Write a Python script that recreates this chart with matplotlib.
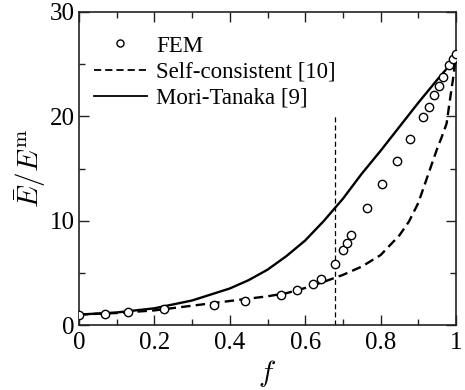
import matplotlib
matplotlib.use("Agg")
import matplotlib.pyplot as plt
from matplotlib.ticker import MultipleLocator

plt.rcParams['font.family'] = ['Liberation Serif', 'DejaVu Serif']
plt.rcParams['mathtext.fontset'] = 'cm'

# FEM results
fem_f = [0.0, 0.069, 0.131, 0.226, 0.359, 0.440, 0.535, 0.577, 0.620, 0.642,
         0.680, 0.700, 0.710, 0.722, 0.765, 0.805, 0.844, 0.879, 0.912, 0.928,
         0.942, 0.954, 0.966, 0.981, 0.992, 1.0]
fem_E = [1.0, 1.1, 1.2, 1.5, 1.9, 2.3, 2.9, 3.35, 3.9, 4.4,
         5.8, 7.2, 7.9, 8.6, 11.2, 13.5, 15.7, 17.8, 19.9, 20.9,
         22.0, 22.9, 23.8, 24.9, 25.5, 26.0]

# Self-consistent [10]
sc_f = [0.0, 0.1, 0.2, 0.3, 0.4, 0.5, 0.55, 0.6, 0.65, 0.7, 0.75, 0.8,
        0.85, 0.875, 0.9, 0.925, 0.95, 0.962, 0.975, 0.984, 0.993, 1.0]
sc_E = [1.0, 1.15, 1.4, 1.85, 2.3, 2.75, 3.05, 3.55, 4.15, 4.8, 5.6, 6.7,
        8.6, 9.9, 11.7, 14.3, 16.9, 18.0, 19.3, 21.6, 23.8, 26.0]

# Mori-Tanaka [9]
mt_f = [0.0, 0.1, 0.2, 0.3, 0.4, 0.45, 0.5, 0.55, 0.6, 0.65, 0.7, 0.75,
        0.8, 0.85, 0.9, 0.95, 1.0]
mt_E = [1.0, 1.2, 1.6, 2.35, 3.5, 4.3, 5.3, 6.6, 8.1, 10.0, 12.1, 14.5,
        16.7, 19.0, 21.3, 23.5, 25.6]

f_mark = 0.68
f_mark_top = 20.0

fig = plt.figure(figsize=(4.65, 3.9), dpi=100)
ax = fig.add_axes([79/465, 1 - 325/390, (456 - 79)/465, (325 - 12)/390])

ax.plot(fem_f, fem_E, 'o', mfc='white', mec='black', ms=6, mew=1.0,
        label='FEM', zorder=4)
ax.plot(sc_f, sc_E, color='black', lw=1.7, ls=(0, (4, 2.2)),
        label='Self-consistent [10]', zorder=3)
ax.plot(mt_f, mt_E, color='black', lw=1.7, label='Mori-Tanaka [9]', zorder=3)
ax.plot([f_mark, f_mark], [0, f_mark_top], color='black', lw=0.9,
        ls=(0, (4, 2.5)), zorder=2)

ax.set_xlim(0, 1)
ax.set_ylim(0, 30)
ax.xaxis.set_minor_locator(MultipleLocator(0.1))
ax.yaxis.set_major_locator(MultipleLocator(10))
ax.yaxis.set_minor_locator(MultipleLocator(5))
ax.set_xticks([0, 0.2, 0.4, 0.6, 0.8, 1.0])
ax.set_xticklabels(['0', '0.2', '0.4', '0.6', '0.8', '1'])
ax.tick_params(which='both', direction='in', top=True, right=True,
               labelsize=18, width=1.0, color='#222222')
ax.tick_params(axis='x', pad=5)
ax.tick_params(axis='y', pad=3)
ax.tick_params(which='major', length=7)
ax.tick_params(which='minor', length=4)
for s in ax.spines.values():
    s.set_linewidth(1.2)
    s.set_color('#222222')

ax.set_xlabel('$f$', fontsize=21, labelpad=3)
ax.set_ylabel(r'$\bar{E}/E^{\mathrm{m}}$', fontsize=21, labelpad=1)

leg = ax.legend(loc='upper left', bbox_to_anchor=(15/377, 0.925),
                frameon=False, fontsize=16.5, borderpad=0, borderaxespad=0,
                handlelength=2.3, handletextpad=0.4, labelspacing=0.22,
                markerscale=0.85)
for h in leg.legend_handles[1:]:
    h.set_linewidth(1.3)

fig.savefig('out.png', dpi=100)
